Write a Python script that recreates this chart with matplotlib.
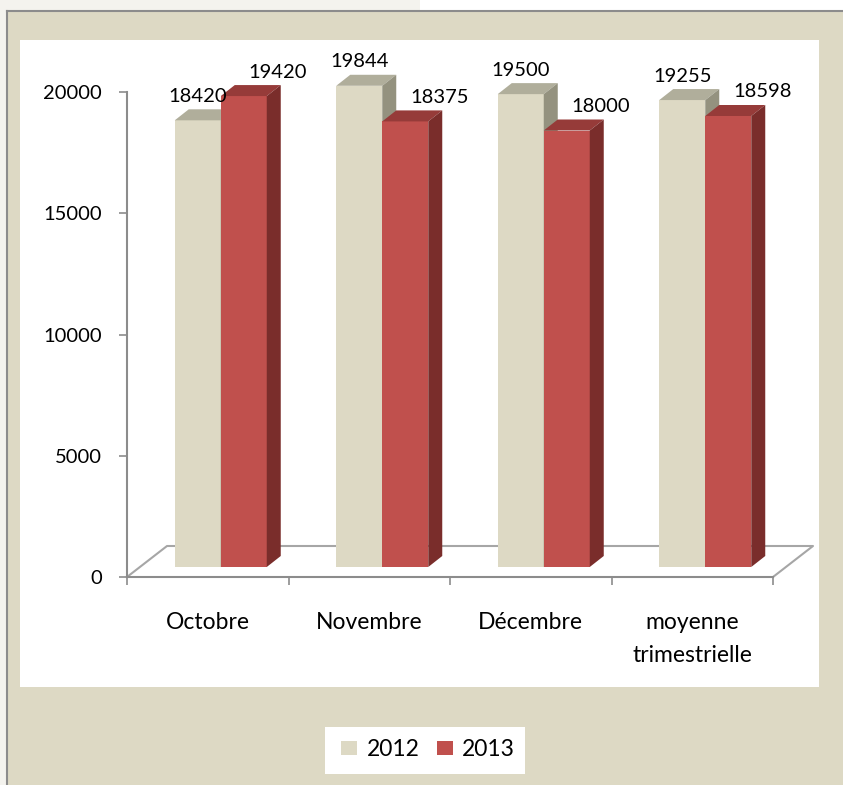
import numpy as np
import matplotlib
matplotlib.use("Agg")
from matplotlib import pyplot as plt
from matplotlib.patches import Rectangle, Polygon

plt.rcParams['font.family'] = ['Lato', 'DejaVu Sans']

categories = ["Octobre", "Novembre", "Décembre", "moyenne\ntrimestrielle"]
series_names = ["2012", "2013"]
values_2012 = [18420, 19844, 19500, 19255]
values_2013 = [19420, 18375, 18000, 18598]
y_ticks = [0, 5000, 10000, 15000, 20000]

beige = "#DDD9C4"
beige_top = "#B0AE9B"
beige_side = "#94927F"
red = "#C0504D"
red_top = "#963B39"
red_side = "#7A2D2B"
grid_gray = "#A6A6A6"

W, H = 843, 785
fig = plt.figure(figsize=(W / 100, H / 100), dpi=100)
fig.patch.set_facecolor("white")

# frame pieces (pixel -> figure fraction)
def px(x0, y0, x1, y1):
    return (x0 / W, 1 - y1 / H), (x1 - x0) / W, (y1 - y0) / H

for (x0, y0, x1, y1), c in [((0, 0, 420, 11), "#F4F3EE"), ((0, 0, 7, H), "#F4F3EE"),
                            ((7, 11, W, H), beige), ((20, 40, 819, 687), "white"),
                            ((325, 727, 525, 774), "white")]:
    xy, w, h = px(x0, y0, x1, y1)
    fig.patches.append(Rectangle(xy, w, h, transform=fig.transFigure, facecolor=c,
                                 edgecolor="none", zorder=-2))
fig.lines.append(plt.Line2D([7 / W, 1], [1 - 11 / H] * 2, transform=fig.transFigure,
                            color="#8C8C8C", lw=1.5, zorder=-1))
fig.lines.append(plt.Line2D([7 / W] * 2, [0, 1 - 11 / H], transform=fig.transFigure,
                            color="#8C8C8C", lw=1.5, zorder=-1))

# axes: y axis at x=127px, floor front edge at 577px, 20000 at 92px
left, right, bottom, top = 127, 773, 577, 92
ax = fig.add_axes([left / W, 1 - bottom / H, (right - left) / W, (bottom - top) / H])
ax.set_facecolor("none")
ax.set_xlim(-0.5, 3.5)
ax.set_ylim(0, 20000)

px_cat = (right - left) / 4.0
px_val = (bottom - top) / 20000.0

# 3D depth (in pixels)
floor_dx, floor_dy = 40, 31
bar_dx, bar_dy = 14, 11
front_dx, front_dy = 13, 10
bar_w = 46 / px_cat

cats = np.arange(len(categories))
sx = front_dx / px_cat
b0 = front_dy / px_val
ddx = bar_dx / px_cat
ddy = bar_dy / px_val

# floor outline
fdx = floor_dx / px_cat
fdy = floor_dy / px_val
ax.plot([-0.5, -0.5 + fdx, 3.5 + fdx, 3.5], [0, fdy, fdy, 0], color=grid_gray,
        lw=1.5, clip_on=False, zorder=1)

handles = []
for k, (vals, cf, ct, cs) in enumerate([(values_2012, beige, beige_top, beige_side),
                                        (values_2013, red, red_top, red_side)]):
    xs = cats + sx + (k - 0.5) * bar_w
    bars = ax.bar(xs, vals, width=bar_w, bottom=b0, color=cf, zorder=3 + k,
                  clip_on=False, label=series_names[k])
    handles.append(bars)
    for x, v in zip(xs, vals):
        xl, xr, yt = x - bar_w / 2, x + bar_w / 2, b0 + v
        ax.add_patch(Polygon([(xl, yt), (xr, yt), (xr + ddx, yt + ddy), (xl + ddx, yt + ddy)],
                             closed=True, facecolor=ct, edgecolor="none", zorder=3 + k,
                             clip_on=False))
        ax.add_patch(Polygon([(xr, b0), (xr + ddx, b0 + ddy), (xr + ddx, yt + ddy), (xr, yt)],
                             closed=True, facecolor=cs, edgecolor="none", zorder=3 + k,
                             clip_on=False))
        label_dx = 0 if k == 0 else 34
        ax.annotate(f"{v}", (x, yt), xytext=(label_dx, 24), textcoords="offset pixels",
                    ha="center", va="center", fontsize=14.5, zorder=6,
                    annotation_clip=False)

for s in ["top", "right"]:
    ax.spines[s].set_visible(False)
for s in ["left", "bottom"]:
    ax.spines[s].set_color("#8C8C8C")
    ax.spines[s].set_linewidth(1.5)

ax.set_yticks(y_ticks)
ax.set_yticklabels([str(t) for t in y_ticks])
ax.tick_params(axis="y", length=6, width=1.2, color="#8C8C8C", pad=12, labelsize=14.5)

ax.set_xticks(np.arange(-0.5, 4, 1.0))
ax.set_xticklabels([])
ax.set_xticks(cats, minor=True)
ax.set_xticklabels(categories, minor=True)
ax.tick_params(axis="x", which="major", length=6, width=1.2, color="#8C8C8C")
ax.tick_params(axis="x", which="minor", length=0, pad=25, labelsize=16.5)
for t in ax.get_xticklabels(minor=True):
    t.set_linespacing(1.75)

fig.legend(handles=handles, labels=series_names, loc="center",
           bbox_to_anchor=(428 / W, 1 - 750 / H), ncol=2, frameon=False,
           fontsize=16.5, handlelength=0.7, handleheight=0.57, handletextpad=0.4,
           columnspacing=0.75)

fig.savefig("out.png", dpi=100)
